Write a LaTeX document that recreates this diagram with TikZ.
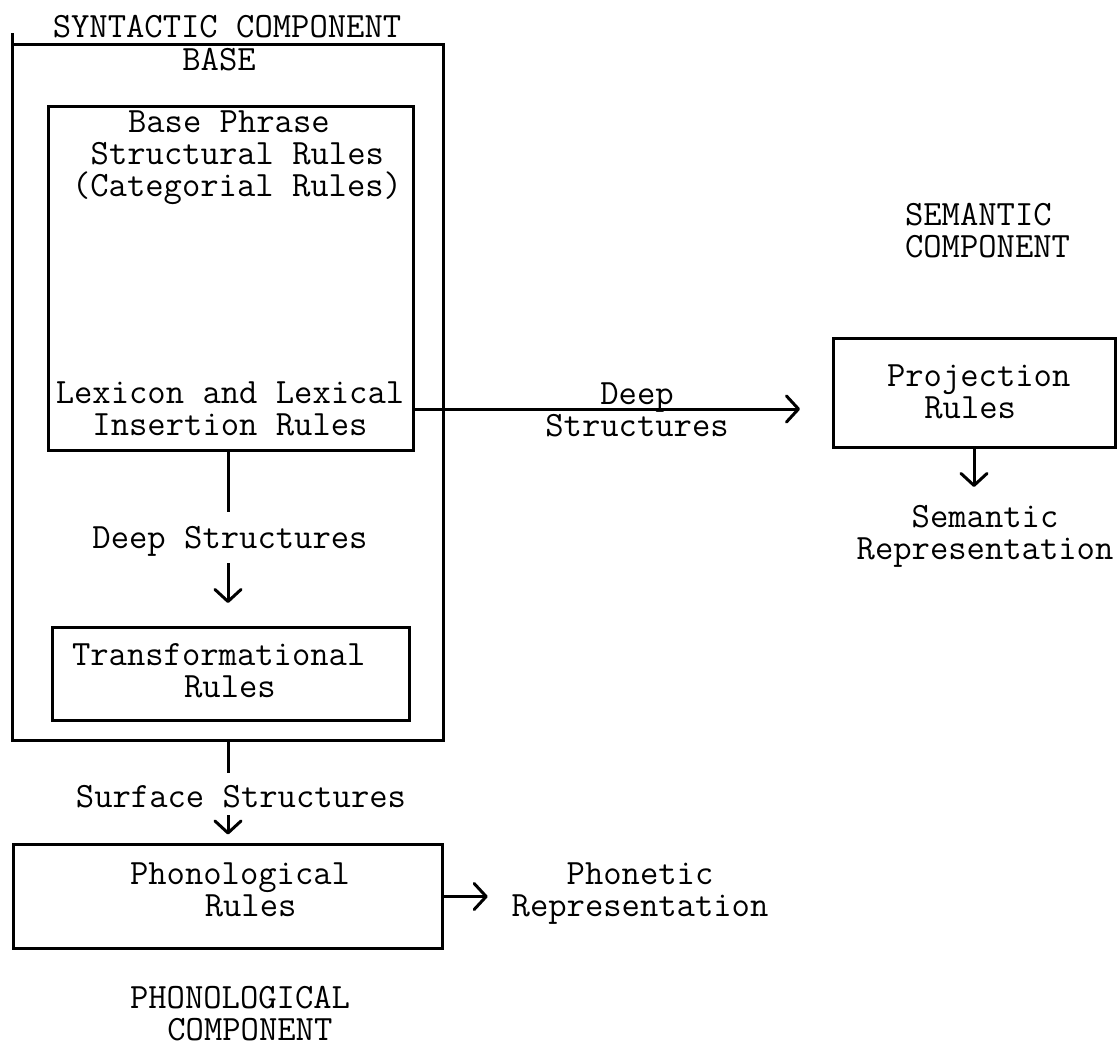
\documentclass[tikz,border=0pt]{standalone}
\usepackage{fontspec}
\usetikzlibrary{arrows.meta}
\begin{document}
\begin{tikzpicture}[x=1pt,y=-1pt,
  every node/.style={font=\ttfamily\addfontfeatures{FakeBold=1.2}\fontsize{35.6}{32}\selectfont, inner sep=0pt, outer sep=0pt},
  box/.style={draw, line width=3pt, rectangle},
  conn/.style={line width=3pt},
  arr/.style={line width=3pt, -{Straight Barb[length=12pt,width=26pt,round]}},
]
\useasboundingbox (0,0) rectangle (1118,1048);
\coordinate (spine) at (228,0);

% syntactic component
\node[box, minimum width=431pt, minimum height=695pt] (syn) at (227.5,392.5) {};
\draw[conn] (syn.north west) -- ++(0,-12);
\node (syntitle) at (227,27) {SYNTACTIC COMPONENT};
\node (base) at (219,60) {BASE};

\node[box, minimum width=365pt, minimum height=343pt] (inner) at (230.5,278.5) {};
\node[align=left, anchor=west] (psr) at (72,158) {\hspace*{1.575em}Base Phrase\\\hspace*{0.525em}Structural Rules\\(Categorial Rules)};
\node[align=center] (lex) at (230,409) {Lexicon and Lexical\\Insertion Rules};

\node (ds) at (230,541) {Deep Structures};
\node[box, minimum width=357pt, minimum height=93pt] (trans) at (230.5,673.5) {};
\node[align=left, anchor=west] (transtxt) at (72,671) {Transformational\\\hspace*{3.15em}Rules};

\draw[conn, shorten >=14pt] (inner.south -| spine) -- (ds.north -| spine);
\draw[arr, shorten <=7pt, shorten >=24pt] (ds.south -| spine) -- (trans.north -| spine);

% phonological component
\node (ss) at (241,797) {Surface Structures};
\node[box, minimum width=429pt, minimum height=104pt] (phon) at (227.5,896.5) {};
\node[align=left, anchor=west] (phontxt) at (130,890) {Phonological\\\hspace*{2.1em}Rules};
\node[align=left, anchor=west] (phoncomp) at (130,1014) {PHONOLOGICAL\\\hspace*{1.05em}COMPONENT};
\node[align=center] (phonetic) at (640,894) {Phonetic\\Representation};

\draw[conn, shorten >=13pt] (syn.south -| spine) -- (ss.north -| spine);
\draw[arr, shorten <=7pt, shorten >=10pt] (ss.south -| spine) -- (phon.north -| spine);
\draw[arr, shorten >=24pt] (phon.east) -- (phon.east -| phonetic.west);

% semantic component
\node[align=left, anchor=west] (semcomp) at (905,231) {SEMANTIC\\COMPONENT};
\node[box, minimum width=282pt, minimum height=109pt] (proj) at (974,392.5) {};
\node[align=left, anchor=west] (projtxt) at (887,392) {Projection\\\hspace*{1.05em}Rules};
\node[align=center] (semrep) at (985,536) {Semantic\\Representation};
\draw[arr, shorten >=18pt] (proj.south) -- (proj.south |- semrep.north);

% deep structures to semantic component
\node[align=center] (dslabel) at (637,410) {Deep\\Structures};
\draw[arr, shorten >=33pt] (lex -| inner.east) -- (lex -| proj.west);
\end{tikzpicture}
\end{document}
